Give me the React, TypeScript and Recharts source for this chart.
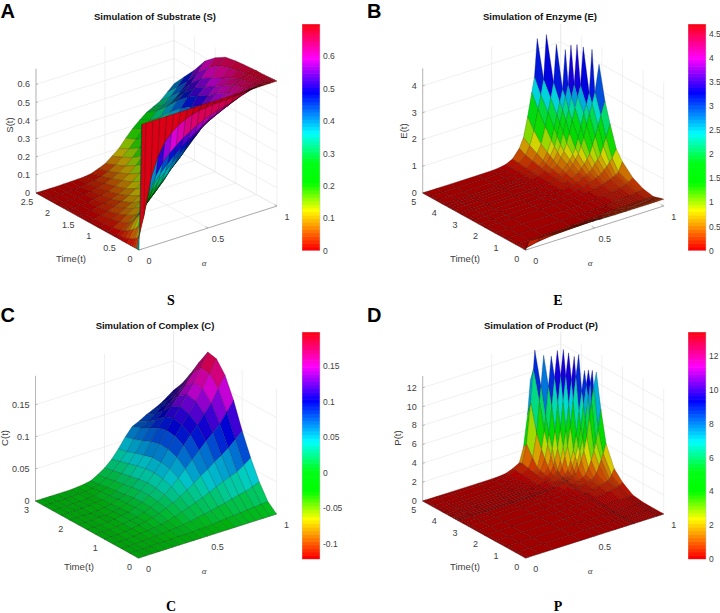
import React from 'react';
import { ScatterChart, Scatter, XAxis, YAxis } from 'recharts';

const W = 720;
const H = 613;
const FONT = '"Liberation Sans", Arial, sans-serif';
const SERIF = '"Liberation Serif", "Times New Roman", serif';

// ---------- Panel A: substrate ----------
const substrateAlpha = [0, .02, .05, .1, .15, .2, .25, .3, .35, .4, .45, .5, .55, .6, .65, .7, .75, .8, .85, .9, .95, 1];
const substrateTime = [0, .05, .1, .15, .2, .3, .4, .5, .6, .8, 1, 1.25, 1.5, 1.75, 2, 2.25, 2.5];
const substrateByAlpha = [
  [0, 0, 0, 0, 0, 0, 0, 0, 0, 0, 0, 0, 0, 0, 0, 0, 0],
  [.69, .08, .05, .04, .03, .02, .01, .005, 0, 0, 0, 0, 0, 0, 0, 0, 0],
  [.69, .17, .128, .106, .089, .064, .045, .03, .02, .01, .005, .002, .001, 0, 0, 0, 0],
  [.69, .36, .273, .227, .192, .14, .102, .07, .05, .03, .018, .01, .005, .002, .001, 0, 0],
  [.69, .47, .36, .302, .258, .193, .145, .105, .08, .055, .035, .02, .012, .006, .003, .001, 0],
  [.69, .54, .42, .356, .308, .236, .184, .14, .115, .08, .055, .035, .02, .012, .006, .002, .001],
  [.69, .58, .46, .396, .348, .276, .224, .18, .15, .105, .075, .05, .03, .02, .01, .004, .002],
  [.69, .61, .493, .431, .384, .314, .263, .22, .19, .135, .1, .07, .045, .03, .018, .008, .003],
  [.69, .63, .522, .464, .421, .356, .31, .27, .23, .17, .13, .095, .065, .045, .03, .015, .005],
  [.69, .645, .545, .491, .451, .39, .347, .31, .27, .21, .165, .125, .09, .065, .045, .025, .01],
  [.69, .655, .567, .519, .484, .431, .392, .36, .32, .26, .21, .165, .125, .09, .065, .04, .025],
  [.69, .66, .585, .545, .515, .47, .438, .41, .37, .31, .26, .21, .165, .125, .09, .065, .04],
  [.69, .665, .603, .571, .546, .509, .483, .46, .42, .36, .31, .26, .21, .165, .125, .095, .07],
  [.69, .665, .613, .585, .564, .532, .509, .49, .46, .4, .36, .31, .26, .21, .165, .13, .1],
  [.69, .667, .623, .6, .582, .555, .536, .52, .49, .44, .4, .35, .31, .26, .21, .17, .145],
  [.69, .67, .634, .615, .6, .579, .563, .55, .525, .48, .44, .4, .36, .31, .26, .215, .186],
  [.69, .675, .647, .631, .62, .603, .59, .58, .56, .53, .49, .45, .41, .36, .3, .25, .22],
  [.69, .68, .659, .648, .639, .627, .618, .61, .595, .57, .53, .5, .46, .41, .345, .29, .25],
  [.69, .683, .67, .663, .658, .65, .645, .64, .625, .6, .57, .535, .5, .44, .37, .31, .27],
  [.69, .686, .678, .674, .671, .666, .663, .66, .65, .63, .605, .575, .54, .48, .405, .345, .29],
  [.69, .688, .684, .682, .68, .678, .676, .675, .67, .66, .65, .63, .585, .53, .45, .385, .325],
  [.69, .69, .689, .688, .687, .686, .685, .685, .683, .68, .675, .665, .63, .58, .5, .43, .36],
];

// ---------- Panel C: complex ----------
const complexAlpha = [0, .05, .1, .15, .2, .25, .3, .35, .4, .45, .5, .55, .6, .65, .7, .75, .8, .85, .9, .95, 1];
const complexTime = [0, .25, .5, .75, 1, 1.25, 1.5, 1.75, 2, 2.25, 2.5, 2.75, 3];
const complexByAlpha = [
  [0, 0, 0, 0, 0, 0, 0, 0, 0, 0, 0, 0, 0],
  [0, 0, 0, 0, 0, 0, 0, 0, 0, 0, 0, 0, 0],
  [0, 0, 0, 0, 0, 0, 0, 0, 0, 0, 0, 0, 0],
  [0, 0, .001, .001, .001, .001, .001, .001, 0, 0, 0, 0, 0],
  [0, .001, .001, .002, .002, .002, .002, .001, .001, .001, 0, 0, 0],
  [0, .001, .002, .003, .004, .004, .004, .003, .002, .002, .001, .001, 0],
  [0, .001, .003, .004, .006, .006, .006, .005, .004, .003, .002, .001, .001],
  [0, .002, .004, .006, .009, .01, .01, .009, .008, .006, .005, .003, .002],
  [0, .002, .005, .008, .012, .014, .015, .014, .012, .01, .008, .006, .004],
  [0, .002, .006, .011, .017, .02, .022, .022, .02, .017, .015, .012, .01],
  [0, .003, .008, .015, .022, .027, .03, .031, .029, .026, .023, .02, .017],
  [0, .003, .01, .019, .028, .036, .041, .043, .042, .039, .035, .031, .027],
  [0, .004, .012, .023, .035, .046, .053, .056, .056, .052, .048, .043, .04],
  [0, .005, .014, .027, .042, .057, .068, .073, .074, .07, .064, .059, .055],
  [0, .006, .017, .032, .05, .068, .083, .09, .092, .088, .08, .073, .068],
  [0, .007, .019, .037, .057, .079, .096, .104, .107, .102, .09, .08, .073],
  [0, .008, .022, .042, .065, .09, .108, .118, .122, .115, .1, .088, .079],
  [0, .009, .025, .046, .072, .1, .122, .134, .137, .128, .11, .095, .084],
  [0, .01, .027, .05, .08, .11, .135, .15, .152, .14, .12, .103, .089],
  [0, .011, .031, .057, .09, .125, .154, .17, .172, .155, .132, .112, .096],
  [0, .012, .035, .065, .1, .14, .172, .19, .193, .17, .145, .122, .104],
];

// ---------- Panel B: enzyme (short rows: the surface is cut off at the top of the box) ----------
const enzymeAlpha = [0, .02, .1, .2, .4, .5, .55, .6, .65, .7, .73, .76, .79, .81, .83, .85, .87, .89, .91, .93, .95, .97, 1];
const enzymeTime = [0, .1, .5, 1, 1.5, 2, 2.3, 2.6, 2.85, 3.14, 3.28, 3.57, 3.74, 3.9, 4.04, 4.34, 4.69, 5];
const enzymeRows = [
  [0, .28, .28, .28, .28, .28, .26, .26, .25, .25, .25, .25, .25, .25, .25, .25, .25, .25, .25, .25, .25, .25, .25],
  [0, .01, .1, .16, .2, .21, .21, .22, .22, .22, .22, .22, .22, .23, .23, .23, .23, .23, .24, .24, .24, .24, .24],
  [0, 0, 0, .005, .03, .05, .06, .08, .09, .1, .1, .11, .11, .12, .12, .12, .13, .13, .13, .13, .13, .13, .14],
  [0, 0, 0, 0, .005, .01, .02, .02, .03, .03, .04, .05, .06, .07, .08, .09, .1, .11, .12, .14, .16, .18, .22],
  [0, 0, 0, 0, .005, .01, .02, .02, .03, .04, .05, .06, .08, .09, .1, .12, .13, .15, .18, .21, .25, .3, .42],
  [0, 0, 0, 0, .005, .01, .02, .02, .03, .05, .07, .08, .11, .13, .15, .18, .21, .25, .29, .33, .38, .47, .8],
  [0, 0, 0, 0, .005, .01, .02, .03, .04, .07, .09, .12, .17, .2, .24, .29, .33, .4, .5, .6, .73, .85, 1.15],
  [0, 0, 0, 0, .005, .01, .02, .03, .05, .09, .12, .16, .23, .28, .33, .4, .5, .65, .78, .92, 1.2, 1.5, 1.95],
  [0, 0, 0, 0, .005, .01, .02, .03, .06, .11, .15, .21, .3, .36, .48, .6, .75, .9, 1.2, 1.5, 1.85, 2.2, 2.7],
  [0, 0, 0, 0, .005, .01, .02, .04, .07, .14, .19, .28, .4, .52, .68, .85, 1.1, 1.4, 1.83, 2.2, 2.55, 2.95, 3.95],
  [0, 0, 0, 0, .005, .01, .02, .04, .08, .15, .22, .33, .5, .63, .8, 1, 1.35, 1.75, 2.2, 2.5, 2.9, 4.5],
  [0, 0, 0, 0, .005, .01, .02, .05, .09, .18, .28, .4, .63, .83, 1.1, 1.45, 1.87, 2.3, 2.7, 3.1, 4.5],
  [0, 0, 0, 0, .005, .01, .02, .05, .1, .2, .31, .5, .76, 1, 1.4, 1.83, 2.2, 2.65, 3.1, 4.55],
  [0, 0, 0, 0, .005, .01, .03, .05, .11, .23, .35, .6, .89, 1.25, 1.7, 2.15, 2.6, 3.05, 4.5],
  [0, 0, 0, 0, .005, .01, .03, .06, .12, .26, .42, .68, 1.08, 1.5, 1.95, 2.4, 2.85, 4.3],
  [0, 0, 0, 0, .005, .01, .03, .06, .14, .32, .55, .85, 1.45, 1.95, 2.45, 3, 4.4],
  [0, 0, 0, 0, .005, .01, .03, .07, .17, .39, .7, 1.2, 1.95, 2.45, 3, 4.65],
  [0, 0, 0, 0, .005, .01, .03, .08, .2, .52, .87, 1.6, 2.45, 3, 4.4],
];

// ---------- Panel D: product ----------
const productAlpha = [0, .02, .1, .2, .4, .5, .55, .6, .65, .7, .73, .76, .78, .79, .81, .83, .85, .87, .89, .91, .93, .95, .965, .98, 1];
const productTime = [0, .5, 1, 1.5, 2, 2.4, 2.8, 3.05, 3.27, 3.33, 3.42, 3.51, 3.66, 3.74, 3.88, 4, 4.16, 4.32, 4.555, 4.85, 5];
const productRows = [
  [0, 0, 0, 0, 0, 0, 0, 0, 0, 0, 0, 0, 0, 0, 0, 0, 0, 0, 0, 0, 0, 0, 0, 0, 0],
  [0, 0, 0, 0, 0, 0, 0, 0, 0, 0, 0, 0, 0, 0, 0, 0, 0, 0, 0, 0, 0, 0, 0, 0, .01],
  [0, 0, 0, 0, 0, 0, 0, 0, 0, 0, 0, 0, 0, 0, .01, .01, .01, .01, .01, .01, .02, .02, .02, .03, .03],
  [0, 0, 0, 0, 0, 0, 0, .01, .02, .03, .04, .05, .06, .06, .07, .08, .09, .1, .11, .12, .13, .14, .15, .16, .2],
  [0, 0, 0, 0, 0, 0, .01, .02, .04, .06, .09, .11, .14, .15, .2, .24, .28, .32, .37, .42, .48, .55, .62, .72, .95],
  [0, 0, 0, 0, 0, 0, .01, .02, .05, .09, .12, .15, .22, .26, .31, .36, .41, .47, .53, .62, .72, .82, .95, 1.3, 1.9],
  [0, 0, 0, 0, 0, 0, .01, .03, .06, .1, .15, .25, .31, .35, .4, .46, .52, .62, .74, .86, 1.25, 1.9, 2.5, 3.1, 4.1],
  [0, 0, 0, 0, 0, 0, .01, .03, .07, .13, .19, .31, .36, .4, .47, .55, .66, .78, 1, 1.6, 2.3, 3.2, 4.1, 5.3, 7.4],
  [0, 0, 0, 0, 0, 0, .01, .04, .08, .16, .29, .4, .47, .51, .6, .72, .88, 1.4, 2.2, 3.1, 4.5, 6.5, 8, 9.6, 11.1],
  [0, 0, 0, 0, 0, 0, .01, .04, .09, .18, .32, .42, .5, .55, .68, .82, 1.2, 2, 3, 4.4, 6.2, 8.4, 10, 11.3],
  [0, 0, 0, 0, 0, 0, .01, .04, .1, .22, .35, .46, .55, .62, .75, .9, 1.6, 2.5, 3.6, 5.4, 7.7, 9.8, 11.3],
  [0, 0, 0, 0, 0, 0, .02, .05, .1, .26, .38, .5, .6, .67, .82, 1.2, 2.1, 3.1, 4.6, 6.9, 9.1, 11.2],
  [0, 0, 0, 0, 0, 0, .02, .05, .12, .3, .44, .6, .76, .85, 1.4, 2.4, 3.4, 5.4, 8, 10.5, 12.8],
  [0, 0, 0, 0, 0, 0, .02, .06, .14, .35, .5, .7, .87, 1.1, 2, 3.3, 5, 7.6, 10.2, 12.6],
  [0, 0, 0, 0, 0, 0, .02, .07, .16, .4, .57, .82, 1.4, 1.9, 3.1, 5, 7.8, 10.5, 12.9],
  [0, 0, 0, 0, 0, 0, .02, .08, .2, .46, .68, 1.2, 2.3, 3, 4.8, 7.6, 10.5, 13.2],
  [0, 0, 0, 0, 0, 0, .02, .08, .26, .52, .8, 1.9, 3.3, 4.4, 7.2, 10.2, 13],
  [0, 0, 0, 0, 0, 0, .03, .09, .3, .6, .92, 2.7, 4.6, 6, 9.2, 12.3],
  [0, 0, 0, 0, 0, 0, .03, .1, .34, .72, 1.7, 4.1, 7.4, 9, 12.2],
  [0, 0, 0, 0, 0, 0, .03, .12, .4, .88, 2.8, 7, 10.5, 12.5],
  [0, 0, 0, 0, 0, 0, .03, .11, .38, .8, 2.3, 5.6, 9.2],
];

const transpose = (cols: number[][]) => cols[0].map((_, i) => cols.map((c) => c[i]));

type Panel = {
  letter: string; letterX: number; letterY: number;
  title: string; titleX: number; titleY: number;
  caption: string; capX: number; capY: number;
  zName: string; zNameX: number; zNameY: number;
  timeX: number; timeY: number; symX: number; symY: number;
  Ox: number; Oy: number; k: number; zTop: number;
  alpha: number[]; time: number[]; rows: number[][]; tmax: number;
  zTicks: number[]; tTicks: number[]; cbTicks: number[]; cMin: number; cMax: number;
  barX: number; barTop: number; barBottom: number; colorMode: 'low' | 'mean' | 'near';
};

const alphaTicks = [0, .5, 1];

const panels: Panel[] = [
  {
    letter: 'A', letterX: .5, letterY: 18.2, title: 'Simulation of Substrate (S)', titleX: 155, titleY: 19.5,
    caption: 'S', capX: 171, capY: 305, zName: 'S(t)', zNameX: 12.5, zNameY: 125,
    timeX: 71, timeY: 262, symX: 204, symY: 266,
    Ox: 139, Oy: 250, k: 181, zTop: .687, alpha: substrateAlpha, time: substrateTime, rows: transpose(substrateByAlpha), tmax: 2.5,
    zTicks: [0, .1, .2, .3, .4, .5, .6], tTicks: [0, .5, 1, 1.5, 2, 2.5], cbTicks: [0, .1, .2, .3, .4, .5, .6], cMin: 0, cMax: .7,
    barX: 302, barTop: 24, barBottom: 250.7, colorMode: 'low',
  },
  {
    letter: 'B', letterX: 367, letterY: 18.2, title: 'Simulation of Enzyme (E)', titleX: 540, titleY: 19.5,
    caption: 'E', capX: 558, capY: 305, zName: 'E(t)', zNameX: 406.5, zNameY: 131,
    timeX: 465, timeY: 262, symX: 590, symY: 266,
    Ox: 525.7, Oy: 250, k: 26.8, zTop: 4.65, alpha: enzymeAlpha, time: enzymeTime, rows: enzymeRows, tmax: 5,
    zTicks: [0, 1, 2, 3, 4], tTicks: [0, 1, 2, 3, 4, 5], cbTicks: [0, .5, 1, 1.5, 2, 2.5, 3, 3.5, 4, 4.5], cMin: 0, cMax: 4.7,
    barX: 688, barTop: 24, barBottom: 250.7, colorMode: 'mean',
  },
  {
    letter: 'C', letterX: .5, letterY: 322, title: 'Simulation of Complex (C)', titleX: 155, titleY: 328.5,
    caption: 'C', capX: 171, capY: 611, zName: 'C(t)', zNameX: 7.5, zNameY: 438,
    timeX: 79, timeY: 570, symX: 204, symY: 574,
    Ox: 138.5, Oy: 558, k: 642, zTop: .195, alpha: complexAlpha, time: complexTime, rows: transpose(complexByAlpha), tmax: 3,
    zTicks: [0, .05, .1, .15], tTicks: [0, 1, 2, 3], cbTicks: [-.1, -.05, 0, .05, .1, .15], cMin: -.122, cMax: .198,
    barX: 302, barTop: 331.7, barBottom: 559, colorMode: 'mean',
  },
  {
    letter: 'D', letterX: 367, letterY: 322, title: 'Simulation of Product (P)', titleX: 541, titleY: 328.5,
    caption: 'P', capX: 558, capY: 611, zName: 'P(t)', zNameX: 400.5, zNameY: 438,
    timeX: 465, timeY: 570, symX: 590, symY: 574,
    Ox: 525.7, Oy: 558, k: 9.44, zTop: 13.25, alpha: productAlpha, time: productTime, rows: productRows, tmax: 5,
    zTicks: [0, 2, 4, 6, 8, 10, 12], tTicks: [0, 1, 2, 3, 4, 5], cbTicks: [0, 2, 4, 6, 8, 10, 12], cMin: 0, cMax: 13.4,
    barX: 688, barTop: 331.7, barBottom: 559, colorMode: 'near',
  },
];

const LEVELS = 64;
// colour bar: position along the bar -> hue in degrees
const barStops = [0, .17, .25, .29, .38, .51, .69, .84, 1];
const hueStops = [0, 60, 100, 120, 125, 180, 240, 300, 360];
function barRgb(f: number): [number, number, number] {
  let n = 0;
  while (n < barStops.length - 2 && f > barStops[n + 1]) n++;
  const deg = hueStops[n] + ((f - barStops[n]) / (barStops[n + 1] - barStops[n])) * (hueStops[n + 1] - hueStops[n]);
  const s = ((deg % 360) / 360) * 6;
  const i = Math.floor(s) % 6;
  const q = s - Math.floor(s);
  const tbl: [number, number, number][] = [[1, q, 0], [1 - q, 1, 0], [0, 1, q], [0, 1 - q, 1], [q, 0, 1], [1, 0, 1 - q]];
  return tbl[i];
}
const level = (v: number, lo: number, hi: number) => Math.max(0, Math.min(LEVELS - 1, Math.floor(((v - lo) / (hi - lo)) * LEVELS)));
const css = (c: [number, number, number], d = 1) => `rgb(${Math.round(c[0] * 255 * d)},${Math.round(c[1] * 255 * d)},${Math.round(c[2] * 255 * d)})`;

function project(p: Panel, a: number, t: number, z: number) {
  return { x: p.Ox + 138 * a - 103 * (t / p.tmax), y: p.Oy - 44 * a - 57 * (t / p.tmax) - p.k * z };
}

function buildCells(p: Panel) {
  const out: any[] = [];
  for (let i = p.time.length - 2; i >= 0; i--) {
    for (let j = p.alpha.length - 2; j >= 0; j--) {
      const a = p.rows[i][j], b = p.rows[i][j + 1], c = p.rows[i + 1][j + 1], d = p.rows[i + 1][j];
      if (a == null || b == null || c == null || d == null) continue;
      const pts = [
        project(p, p.alpha[j], p.time[i], a),
        project(p, p.alpha[j + 1], p.time[i], b),
        project(p, p.alpha[j + 1], p.time[i + 1], c),
        project(p, p.alpha[j], p.time[i + 1], d),
      ];
      const cx = pts.reduce((s, q) => s + q.x, 0) / 4;
      const cy = pts.reduce((s, q) => s + q.y, 0) / 4;
      let area = 0;
      for (let k = 0; k < 4; k++) {
        const q = pts[k], r = pts[(k + 1) % 4];
        area += q.x * r.y - r.x * q.y;
      }
      area = Math.abs(area) / 2;
      const sub = Math.max(1, (p.alpha[j + 1] - p.alpha[j]) * 50) * Math.max(1, ((p.time[i + 1] - p.time[i]) / p.tmax) * 50);
      const cover = Math.max(.14, Math.min(.75, .84 / Math.sqrt(Math.max(area / sub, .3))));
      const v = p.colorMode === 'low' ? (a + b) / 2 : p.colorMode === 'near' ? (a + b + d) / 3 : (a + b + c + d) / 4;
      const rgb = barRgb(level(v, p.cMin, p.cMax) / LEVELS);
      out.push({
        x: cx, y: cy,
        off: pts.map((q) => [q.x - cx, q.y - cy]),
        fill: css(rgb, 1 - cover),
        edge: css(rgb, (1 - cover) * .5),
      });
    }
  }
  return out;
}

function seg(a: { x: number; y: number }, b: { x: number; y: number }, stroke: string, w: number) {
  const x = (a.x + b.x) / 2, y = (a.y + b.y) / 2;
  return { x, y, dx: (b.x - a.x) / 2, dy: (b.y - a.y) / 2, stroke, w };
}

const GRID = '#e6e6e6';
const AXIS = '#8f8f8f';

function buildFrame(p: Panel) {
  const s: any[] = [];
  const T = p.tmax;
  for (const a of alphaTicks) {
    s.push(seg(project(p, a, T, 0), project(p, a, T, p.zTop), GRID, .6));
    s.push(seg(project(p, a, 0, 0), project(p, a, T, 0), GRID, .6));
  }
  for (const t of p.tTicks) {
    s.push(seg(project(p, 1, t, 0), project(p, 1, t, p.zTop), GRID, .6));
    s.push(seg(project(p, 0, t, 0), project(p, 1, t, 0), GRID, .6));
  }
  for (const z of p.zTicks) {
    s.push(seg(project(p, 0, T, z), project(p, 1, T, z), GRID, .6));
    s.push(seg(project(p, 1, T, z), project(p, 1, 0, z), GRID, .6));
    s.push(seg(project(p, 0, T, z), project(p, .015, T, z), AXIS, .6));
  }
  s.push(seg(project(p, 0, T, 0), project(p, 0, T, p.zTop), AXIS, .6));
  s.push(seg(project(p, 0, 0, 0), project(p, 1, 0, 0), AXIS, .7));
  s.push(seg(project(p, 0, 0, 0), project(p, 0, T, 0), AXIS, .7));
  for (const a of alphaTicks) s.push(seg(project(p, a, 0, 0), project(p, a, T * .025, 0), AXIS, .6));
  for (const t of p.tTicks) s.push(seg(project(p, 0, t, 0), project(p, .02, t, 0), AXIS, .6));
  return s;
}

function buildText(p: Panel) {
  const ink = '#404040';
  const out: any[] = [];
  const add = (x: number, y: number, text: string, extra: any = {}) =>
    out.push({ x, y, text, size: 9, fill: ink, family: FONT, anchor: 'middle', weight: 400, rotate: 0, style: 'normal', ...extra });
  for (const z of p.zTicks) {
    const q = project(p, 0, p.tmax, z);
    add(q.x - 6, q.y + 3, String(z), { anchor: 'end' });
  }
  for (const t of p.tTicks) {
    const q = project(p, 0, t, 0);
    add(q.x - 9, q.y + 12, String(t));
  }
  for (const a of alphaTicks) {
    const q = project(p, a, 0, 0);
    add(q.x + 10, q.y + 13.5, String(a));
  }
  add(p.timeX, p.timeY, 'Time(t)', { size: 9.6 });
  add(p.symX, p.symY, 'α', { family: SERIF, size: 9, style: 'italic' });
  add(p.zNameX, p.zNameY, p.zName, { size: 9.6, rotate: -90 });
  add(p.titleX, p.titleY, p.title, { size: 9.5, weight: 700, fill: '#111' });
  add(p.letterX, p.letterY, p.letter, { size: 20, weight: 700, fill: '#000', anchor: 'start' });
  add(p.capX, p.capY, p.caption, { size: 14, weight: 700, fill: '#000', family: SERIF });
  return out;
}

const CellShape = (props: any) => {
  const { cx, cy, payload } = props;
  const points = payload.off.map((o: number[]) => `${cx + o[0]},${cy + o[1]}`).join(' ');
  return <polygon points={points} fill={payload.fill} stroke={payload.edge} strokeWidth={.35} strokeLinejoin="round" />;
};

const SegShape = (props: any) => {
  const { cx, cy, payload } = props;
  return <line x1={cx - payload.dx} y1={cy - payload.dy} x2={cx + payload.dx} y2={cy + payload.dy} stroke={payload.stroke} strokeWidth={payload.w} />;
};

const TextShape = (props: any) => {
  const { cx, cy, payload: p } = props;
  return (
    <text x={cx} y={cy} fontSize={p.size} fill={p.fill} fontFamily={p.family} fontWeight={p.weight} fontStyle={p.style}
      textAnchor={p.anchor} transform={p.rotate ? `rotate(${p.rotate} ${cx} ${cy})` : undefined}>
      {p.text}
    </text>
  );
};

const BAR_W = 18;

function ColorBar({ p }: { p: Panel }) {
  const h = p.barBottom - p.barTop;
  const pad = 6;
  const step = (p.cMax - p.cMin) / LEVELS;
  const data = Array.from({ length: LEVELS }, (_, i) => ({ x: .5, y: p.cMin + (i + .5) * step, fill: css(barRgb(i / LEVELS)) }));
  const Swatch = (s: any) => (
    <rect x={s.cx - BAR_W / 2} y={s.cy - h / LEVELS / 2 - .3} width={BAR_W} height={h / LEVELS + .6} fill={s.payload.fill} />
  );
  const Box = (s: any) => (
    <rect x={s.cx - BAR_W / 2} y={s.cy - h / 2} width={BAR_W} height={h} fill="none" stroke="#c4c4c4" strokeWidth={.5} />
  );
  return (
    <div style={{ position: 'absolute', left: p.barX, top: p.barTop - pad }}>
      <ScatterChart width={BAR_W + 32} height={h + 2 * pad} margin={{ top: pad, bottom: pad, left: 0, right: 0 }}>
        <XAxis type="number" dataKey="x" domain={[0, 1]} hide />
        <YAxis type="number" dataKey="y" orientation="right" domain={[p.cMin, p.cMax]} ticks={p.cbTicks} interval={0}
          width={32} axisLine={false} tickLine={false} tickSize={0} tickMargin={3}
          tick={{ fontSize: 8.5, fill: '#404040', fontFamily: FONT }} allowDataOverflow />
        <Scatter data={data} shape={Swatch} isAnimationActive={false} />
        <Scatter data={[{ x: .5, y: (p.cMin + p.cMax) / 2 }]} shape={Box} isAnimationActive={false} />
      </ScatterChart>
    </div>
  );
}

export default function App() {
  return (
    <div style={{ position: 'fixed', left: 0, top: 0, width: W, height: H, background: '#fff', overflow: 'hidden' }}>
      <ScatterChart width={W} height={H} margin={{ top: 0, right: 0, bottom: 0, left: 0 }}>
        <XAxis type="number" dataKey="x" domain={[0, W]} hide />
        <YAxis type="number" dataKey="y" domain={[0, H]} reversed hide />
        {panels.map((p) => (
          <Scatter key={p.letter + 'frame'} data={buildFrame(p)} shape={SegShape} isAnimationActive={false} />
        ))}
        {panels.map((p) => (
          <Scatter key={p.letter + 'surface'} data={buildCells(p)} shape={CellShape} isAnimationActive={false} />
        ))}
        {panels.map((p) => (
          <Scatter key={p.letter + 'text'} data={buildText(p)} shape={TextShape} isAnimationActive={false} />
        ))}
      </ScatterChart>
      {panels.map((p) => (
        <ColorBar key={p.letter} p={p} />
      ))}
    </div>
  );
}
